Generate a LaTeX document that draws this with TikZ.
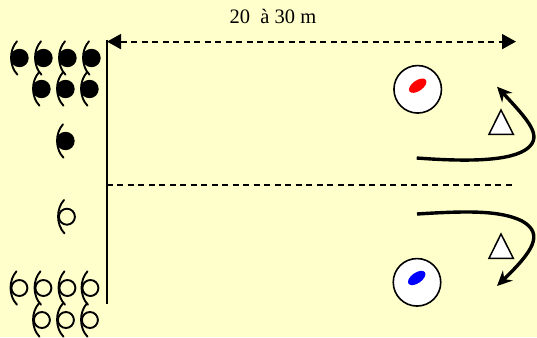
\documentclass[tikz,border=0pt]{standalone}
\usepackage{fontspec}
\setmainfont{Liberation Serif}
\usetikzlibrary{arrows.meta,shapes.geometric}
\tikzset{
  x=1pt,y=-1pt,
  hand/.style={line width=1.9pt,line cap=round},
  filledp/.pic={
    \fill[black] (0,0) circle (9.2);
    \draw[hand] (-2.5,-16.7) .. controls (-10.5,-8) and (-10.5,8) .. (-2,16.7);
  },
  openp/.pic={
    \draw[hand] (0.4,0) circle (8);
    \draw[hand] (-2.5,-16.7) .. controls (-10.5,-8) and (-10.5,8) .. (-2,16.7);
  },
  target/.style={circle,draw=black,fill=white,line width=1.6pt,minimum size=47.5,inner sep=0},
  spot/.style={ellipse,minimum width=20,minimum height=10.5,inner sep=0,rotate=35},
  cone/.style={draw=black,fill=white,line width=1.5pt,line join=miter},
  run/.style={line width=3.4,-{Stealth[length=15,width=14,inset=5]}},
  dim/.style={line width=1.9pt,dash pattern=on 6pt off 4.5pt,{Triangle[length=14,width=15]}-{Triangle[length=14,width=15]}},
}
\begin{document}
\begin{tikzpicture}
\useasboundingbox[fill={rgb,255:red,255;green,255;blue,204}] (0,0) rectangle (537,337);
% start line and centre line
\coordinate (lineTop) at (107,40);
\coordinate (lineBot) at (107,304);
\draw[line width=1.9] (lineTop) -- (lineBot);
\coordinate (midL) at (106.5,185);
\coordinate (midR) at (515,185);
\draw[line width=1.5,dash pattern=on 6pt off 4.5pt] (midL) -- (midR);
% dimension
\coordinate (dimL) at (107,41.6);
\coordinate (dimR) at (516,41.6);
\draw[dim] (dimL) -- (dimR);
\node[font=\fontsize{20.5}{24}\selectfont,inner sep=0] (dimlabel) at (273,16.5) {20\hspace{0.25em} à 30 m};
% players
\foreach \px/\py in {19.5/58,43.5/58,67.5/58,91.5/58,41.5/89,65.5/89,89.5/89,65.5/141}
  \pic at (\px,\py) {filledp};
\foreach \px/\py in {66.5/216.7,19/288,43/288,67/288,90/288,41.5/320,65.5/320,89.5/320}
  \pic at (\px,\py) {openp};
% targets
\node[target] (t1) at (417.7,89.3) {};
\node[spot,fill=red] (s1) at (417.7,85.7) {};
\node[target] (t2) at (417,282.3) {};
\node[spot,fill=blue] (s2) at (416.7,278) {};
% cones
\draw[cone] (501,110) -- (513.3,134.3) -- (489,134.3) -- cycle;
\draw[cone] (501,234) -- (513.3,258.3) -- (489,258.3) -- cycle;
% runs
\coordinate (r1a) at (416.7,158);
\coordinate (r1b) at (497,86.7);
\draw[run] (r1a) .. controls (470,162) and (512,161) .. (528,148)
  .. controls (542,136) and (530,122) .. (r1b);
\coordinate (r2a) at (417,214);
\coordinate (r2b) at (497,286);
\draw[run] (r2a) .. controls (465,211) and (500,210) .. (522,221)
  .. controls (545,234) and (532,252) .. (r2b);
\end{tikzpicture}
\end{document}
